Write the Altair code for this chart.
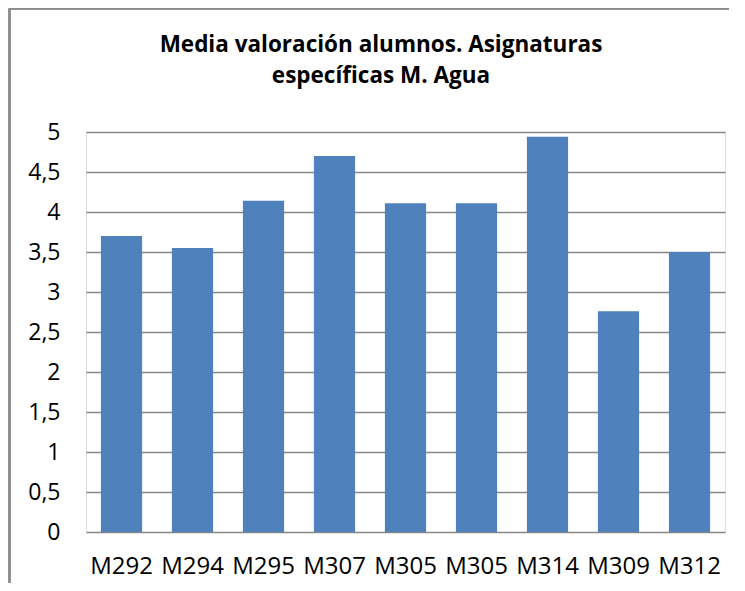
import altair as alt
import pandas as pd

categories = ["M292", "M294", "M295", "M307", "M305", "M305", "M314", "M309", "M312"]
values = [3.70, 3.55, 4.14, 4.70, 4.11, 4.11, 4.94, 2.76, 3.50]
y_ticks = [0, 0.5, 1, 1.5, 2, 2.5, 3, 3.5, 4, 4.5, 5]
title_lines = ["Media valoración alumnos. Asignaturas", "específicas M. Agua"]

df = pd.DataFrame({"idx": list(range(len(categories))), "cat": categories, "val": values})
label_expr = "[" + ",".join('"%s"' % c for c in categories) + "][datum.value]"

FONT = "Open Sans"

bars = alt.Chart(df).mark_bar(color="#4F81BD").encode(
    x=alt.X("idx:O", title=None,
            scale=alt.Scale(paddingInner=0.42, paddingOuter=0.21),
            axis=alt.Axis(labelExpr=label_expr, labelAngle=0, ticks=False, domain=False,
                          labelFont=FONT, labelFontSize=24, labelColor="#000000",
                          labelPadding=22, grid=False)),
    y=alt.Y("val:Q", title=None,
            scale=alt.Scale(domain=[0, 5], nice=False),
            axis=alt.Axis(values=y_ticks, labelExpr="replace(format(datum.value, ''), '.', ',')",
                          ticks=False, domain=False, grid=True, gridColor="#878787",
                          gridWidth=1.5, labelFont=FONT, labelFontSize=23,
                          labelColor="#000000", labelPadding=26)),
)

border_left = alt.Chart(df).mark_rule(color="#8c8c8c", strokeWidth=1.5).encode(
    x=alt.value(-76.5), y=alt.value(-123.5), y2=alt.value(470))
border_top = alt.Chart(df).mark_rule(color="#8c8c8c", strokeWidth=1.5).encode(
    x=alt.value(-76.5), x2=alt.value(660), y=alt.value(-123.5))

title = alt.Chart(pd.DataFrame({"t": ["\n".join(title_lines)]})).mark_text(
    font=FONT, fontSize=22.5, fontWeight="bold", color="#000000", align="center",
    baseline="alphabetic", lineBreak="\n", lineHeight=31).encode(
    text="t:N", x=alt.value(295), y=alt.value(-80))

chart = alt.layer(bars, border_left, border_top, title).properties(
    width=639, height=400,
    autosize=alt.AutoSizeParams(type="none"),
    padding={"left": 78, "top": 124, "right": 4, "bottom": 51},
).configure_view(stroke="transparent", strokeWidth=0).configure(background="white")

chart.save("out.html", embed_options={"renderer": "svg", "actions": False})
